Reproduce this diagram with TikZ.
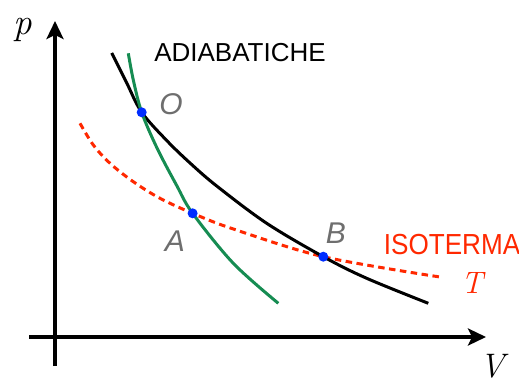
\documentclass[tikz,border=0pt]{standalone}
\usepackage{fontspec}
\newfontfamily\lsans{Liberation Sans}
\usetikzlibrary{arrows.meta}
\definecolor{adgreen}{RGB}{22,140,82}
\definecolor{isored}{RGB}{255,40,0}
\definecolor{dotblue}{RGB}{0,45,255}
\definecolor{lblgray}{RGB}{110,110,110}
\begin{document}
\begin{tikzpicture}[x=1pt,y=-1pt,
  axis/.style={line width=4pt,-{Stealth[length=18pt,width=17pt,inset=4pt]}},
  curveblack/.style={line width=3pt,black},
  curvegreen/.style={line width=3pt,adgreen},
  curvered/.style={line width=3pt,isored,dash pattern=on 6.5pt off 4.5pt},
  dot/.style={circle,fill=dotblue,inner sep=0pt,minimum size=10pt},
  ptlabel/.style={inner sep=0pt,text=lblgray,font=\lsans\itshape\fontsize{30}{34}\selectfont},
  sanslabel/.style={inner sep=0pt,font=\lsans\fontsize{26}{30}\selectfont},
  mathlabel/.style={inner sep=0pt}]
\useasboundingbox (0,0) rectangle (519,385);
% axes
\coordinate (xs) at (29,337);
\coordinate (xe) at (486,337);
\coordinate (ys) at (55,366);
\coordinate (ye) at (55,21);
\draw[axis] (xs) -- (xe);
\draw[axis] (ys) -- (ye);
% points
\coordinate (Op) at (141.7,112.3);
\coordinate (Ap) at (192.6,213.3);
\coordinate (Bp) at (323.3,256.7);
% isotherm
\draw[curvered] plot[smooth,tension=0.55] coordinates {(80,123.3) (93.3,145) (110,163.3) (133.3,181.7) (160,198.3) (Ap) (233.3,229) (Bp) (440,277)};
% adiabats
\draw[curveblack] plot[smooth,tension=0.55] coordinates {(111.7,53) (126.5,82.5) (Op) (166.7,140.5) (190,163) (216.7,186) (266.7,223.3) (Bp) (366.7,278.3) (428.3,303.3)};
\draw[curvegreen] plot[smooth,tension=0.55] coordinates {(128.3,53.3) (133.3,80) (Op) (157,148) (176.7,185.5) (Ap) (233.3,263.3) (278.3,303.3)};
% dots
\node[dot] (O) at (Op) {};
\node[dot] (A) at (Ap) {};
\node[dot] (B) at (Bp) {};
% labels
\node[ptlabel] (Olbl) at (171,104.5) {O};
\node[ptlabel] (Albl) at (175,241.5) {A};
\node[ptlabel] (Blbl) at (336,233) {B};
\node[sanslabel] (adiab) at (240,52.5) {ADIABATICHE};
\node[sanslabel,text=isored] (iso) at (452,245) {\scalebox{0.9}[1]{\fontsize{29}{33}\selectfont ISOTERMA}};
\node[mathlabel,text=isored] (T) at (472,283) {\fontsize{31}{36}\selectfont\itshape T};
\node[mathlabel] (p) at (23,30) {\fontsize{37}{42}\selectfont\itshape p};
\node[mathlabel] (V) at (492,366) {\fontsize{34}{40}\selectfont\itshape V};
\end{tikzpicture}
\end{document}
